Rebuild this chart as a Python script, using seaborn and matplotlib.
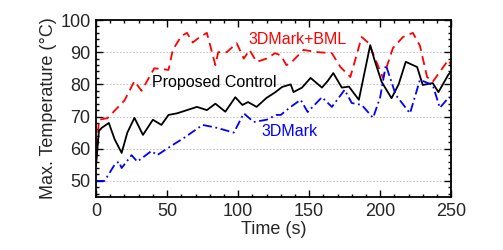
import numpy as np
import pandas as pd
import matplotlib
matplotlib.use("Agg")
import matplotlib.pyplot as plt
from matplotlib.ticker import MultipleLocator
import seaborn as sns

# values
t_ctrl = [0, 2, 4, 9, 13, 18, 22, 27, 33, 37, 40, 46, 51, 57, 64, 71, 78, 84, 91, 98,
          103, 107, 113, 120, 126, 131, 137, 139, 145, 151, 159, 163, 167, 173, 178,
          185, 193, 196, 201, 208, 213, 218, 226, 230, 237, 241, 248, 250]
v_ctrl = [55, 65.5, 66.5, 68, 63, 58.7, 65, 69.6, 64.3, 67, 69, 67.4, 70.5, 71, 72, 73,
          72, 74, 71.5, 76, 73.6, 74.5, 73, 75.8, 77.5, 79.2, 80, 77.6, 79, 82, 79, 81,
          83.5, 79, 79.3, 75.2, 92.2, 87.6, 80.8, 75.7, 80, 87, 85.4, 79.8, 80.4, 77.6,
          83, 84]

t_bml = [0, 2, 8, 13, 20, 27, 32, 41, 51, 54, 60, 64, 68, 73, 78, 84, 86, 92, 99, 104,
         108, 113, 120, 126, 130, 134, 137, 146, 156, 166, 172, 179, 187, 192, 202, 209,
         216, 223, 228, 233, 237, 248, 250]
v_bml = [56, 69, 69.5, 71.8, 75, 81, 78, 85, 84.5, 90.7, 95, 96, 93, 94.7, 96, 86, 90,
         90, 92.8, 88, 90.7, 87, 88, 89.7, 89, 86, 86.6, 90.7, 90, 89.7, 85.4, 82.3, 94.7,
         92.8, 82, 91.3, 94.7, 96, 92, 82.3, 80.8, 87.6, 86]

t_3dm = [0, 6, 13, 16, 18, 25, 29, 39, 43, 53, 62, 75, 85, 97, 104, 111, 120, 127, 130,
         137, 144, 149, 159, 166, 175, 180, 187, 195, 200, 204, 211, 221, 228, 237, 242,
         248, 250]
v_3dm = [50, 50, 55, 56, 54, 58, 56, 59.3, 58, 60.9, 63.4, 67.4, 66.5, 65, 71, 68.3, 69,
         70.5, 70.5, 73, 75.2, 71.4, 76, 73, 78.3, 74.2, 73.6, 69.6, 76, 86, 76.7, 71,
         81.4, 79.8, 72.7, 75.8, 76]

series = ["3DMark+BML", "Proposed Control", "3DMark"]
colors = {"3DMark+BML": "#ff0000", "Proposed Control": "#000000", "3DMark": "#0000ff"}

df = pd.concat([
    pd.DataFrame({"Time": t_bml, "Temp": v_bml, "Series": series[0]}),
    pd.DataFrame({"Time": t_ctrl, "Temp": v_ctrl, "Series": series[1]}),
    pd.DataFrame({"Time": t_3dm, "Temp": v_3dm, "Series": series[2]}),
])

sns.set_theme(style="ticks")
plt.rcParams["font.family"] = ["Liberation Sans", "DejaVu Sans"]

fig = plt.figure(figsize=(5.03, 2.5), dpi=100)
ax = fig.add_axes([0.191, 0.212, 0.706, 0.708])

sns.lineplot(data=df, x="Time", y="Temp", hue="Series", style="Series",
             palette=colors,
             dashes={"3DMark+BML": (5, 3), "Proposed Control": "",
                     "3DMark": (5, 2, 1, 2)},
             linewidth=1.3, legend=False, ax=ax, sort=False, estimator=None)

ax.set_xlim(0, 250)
ax.set_ylim(45, 100)
ax.xaxis.set_major_locator(MultipleLocator(50))
ax.xaxis.set_minor_locator(MultipleLocator(10))
ax.yaxis.set_major_locator(MultipleLocator(10))
ax.yaxis.set_minor_locator(MultipleLocator(2))
ax.set_yticks([50, 60, 70, 80, 90, 100])
ax.tick_params(which="both", direction="in", top=True, right=True, labelsize=13,
               color="black", width=1)
ax.tick_params(which="major", length=5, pad=4)
ax.tick_params(which="minor", length=2.5)
for s in ax.spines.values():
    s.set_linewidth(1.3)
    s.set_color("black")
for yv in [50, 60, 70, 80, 90]:
    ax.axhline(yv, color="#bbbbbb", linestyle=(0, (2, 2)), linewidth=0.6, zorder=0)

ax.set_xlabel("Time (s)", fontsize=13, labelpad=1)
ax.set_ylabel("Max. Temperature (°C)", fontsize=13, labelpad=2)

ax.text(142, 94, "3DMark+BML", color="#ff0000", fontsize=11.5, ha="center", va="center")
ax.text(83, 80.5, "Proposed Control", color="black", fontsize=11.5, ha="center", va="center")
ax.text(136, 65.5, "3DMark", color="#0000ff", fontsize=11.5, ha="center", va="center")

fig.savefig("out.png", dpi=100)
